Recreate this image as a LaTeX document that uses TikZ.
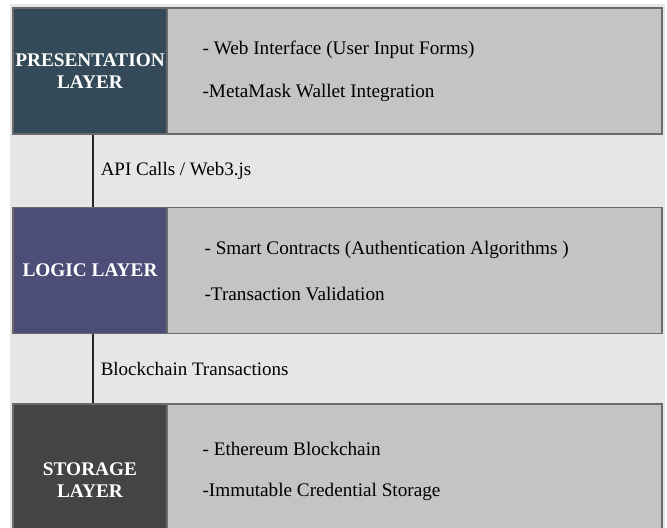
\documentclass[tikz,border=0pt]{standalone}
\usepackage{fontspec}
\setmainfont{Liberation Serif}

\definecolor{presblue}{HTML}{344A58}
\definecolor{logicblue}{HTML}{4C4E78}
\definecolor{storegray}{HTML}{444444}
\definecolor{itemgray}{HTML}{C4C4C4}
\definecolor{bggray}{HTML}{E6E6E6}
\definecolor{edgegray}{HTML}{6A6A6A}

\begin{document}
\begin{tikzpicture}[x=1bp, y=-1bp]

    \useasboundingbox (0,0) rectangle (667,528);
    \fill[bggray] (10,4) rectangle (665,528);

    % Estilos das camadas
    \tikzset{
        layerbox/.style={draw=edgegray, line width=1.2bp, minimum width=154bp, inner sep=0pt},
        itembox/.style={draw=edgegray, line width=1.2bp, fill=itemgray, minimum width=495bp, inner sep=0pt},
        head/.style={text=white, font=\fontsize{19.3bp}{22.5bp}\selectfont\bfseries, align=center, inner sep=0pt},
        item/.style={anchor=west, font=\fontsize{19.2bp}{22bp}\selectfont, inner sep=0pt},
        link/.style={line width=1.5bp, draw=black!85},
        linklabel/.style={right=7bp, font=\fontsize{19bp}{22bp}\selectfont, inner sep=0pt}
    }

    % --------------------
    % Camada 1
    % --------------------
    \node[layerbox, fill=presblue, minimum height=126bp] (pres) at (90,71) {};
    \node[itembox, minimum height=126bp] (presitems) at (414.5,71) {};

    \node[head] (preshead) at (pres.center) {PRESENTATION\\LAYER};
    \node[item] (web) at ([xshift=36bp, yshift=21.5bp]presitems.west) {- Web Interface (User Input Forms)};
    \node[item] (wallet) at ([xshift=36bp, yshift=-22bp]presitems.west) {-MetaMask Wallet Integration};

    % --------------------
    % Camada 2
    % --------------------
    \node[layerbox, fill=logicblue, minimum height=126bp] (logic) at (90,270.5) {};
    \node[itembox, minimum height=126bp] (logicitems) at (414.5,270.5) {};

    \node[head] (logichead) at (logic.center) {LOGIC LAYER};
    \node[item] (contracts) at ([xshift=38bp, yshift=20.5bp]logicitems.west) {- Smart Contracts (Authentication Algorithms )};
    \node[item] (validation) at ([xshift=38bp, yshift=-23bp]logicitems.west) {-Transaction Validation};

    % --------------------
    % Camada 3
    % --------------------
    \node[layerbox, fill=storegray, minimum height=132bp] (store) at (90,470) {};
    \node[itembox, minimum height=132bp] (storeitems) at (414.5,470) {};

    \node[head] (storehead) at ([yshift=-10bp]store.center) {STORAGE\\LAYER};
    \node[item] (ethereum) at ([xshift=36bp, yshift=21bp]storeitems.west) {- Ethereum Blockchain};
    \node[item] (credential) at ([xshift=36bp, yshift=-22bp]storeitems.west) {-Immutable Credential Storage};

    % Ligações
    \draw[link] ([xshift=3bp]pres.south) -- node[linklabel] (apicalls) {API Calls / Web3.js} ([xshift=3bp]logic.north);
    \draw[link] ([xshift=3bp]logic.south) -- node[linklabel] (transactions) {Blockchain Transactions} ([xshift=3bp]store.north);

\end{tikzpicture}
\end{document}
